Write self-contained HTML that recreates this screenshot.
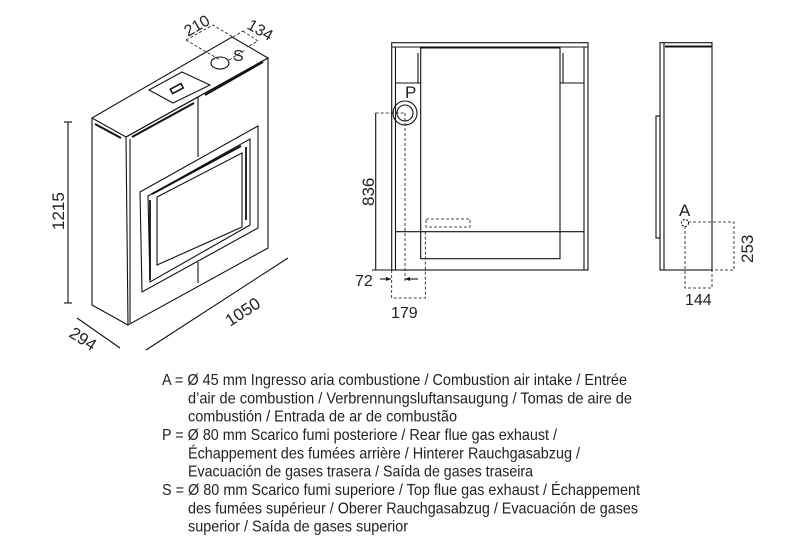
<!DOCTYPE html>
<html><head><meta charset="utf-8"><style>
html,body{margin:0;padding:0;background:#fff;}
svg{display:block;}
text{font-family:"Liberation Sans",sans-serif;fill:#222;}
</style></head><body>
<svg width="790" height="550" viewBox="0 0 790 550" xmlns="http://www.w3.org/2000/svg">
<g fill="none" stroke="#111" stroke-width="1.1">
<polygon points="92,118 232,37 268,58 126,137"/>
<polyline points="92,118 92,305 128,325"/>
<polygon points="126,137 268,58 268,248 128,325"/>
<line x1="130" y1="139" x2="130" y2="323"/>
<line x1="95" y1="124" x2="121" y2="138" stroke-width="2"/>
<line x1="132" y1="137" x2="194" y2="103" stroke-width="2"/>
<line x1="205" y1="95" x2="263" y2="62" stroke-width="2"/>
<line x1="198" y1="97" x2="198" y2="157"/>
<line x1="198" y1="262" x2="198" y2="283"/>
<polygon points="140,192 258,126 258,228 142,292"/>
<polygon points="148,196 250,139 250,225 150,282"/>
<polygon points="157,197 242,153 242,227 157,265"/>
<line x1="152" y1="194" x2="241" y2="146" stroke-width="2"/>
<line x1="150" y1="200" x2="150" y2="280" stroke-width="1.8"/>
<line x1="246" y1="147" x2="246" y2="220" stroke-width="1.8"/>
<polygon points="149,90 182,72 210,85 173,103"/>
<rect x="171" y="86" width="12" height="5" transform="rotate(-28 177 89)" stroke-width="1.6"/>
<ellipse cx="220" cy="63" rx="9" ry="6"/>
<g stroke-dasharray="3,2" stroke-width="0.8">
<polyline points="186,40 213,25 233,37"/>
<line x1="186" y1="40" x2="220" y2="60"/>
<line x1="233" y1="37" x2="243" y2="31"/>
<polyline points="243,31 258,41 247,47"/>
<line x1="229" y1="60" x2="245" y2="50"/>
</g>
<line x1="64" y1="122" x2="72" y2="122"/><line x1="68" y1="122" x2="68" y2="303"/><line x1="64" y1="303" x2="72" y2="303"/>
<line x1="77" y1="318" x2="120" y2="348"/>
<line x1="146" y1="350" x2="288" y2="258"/>
</g>
<text x="0" y="0" font-size="17" transform="translate(64,230) rotate(-90)">1215</text>
<text x="0" y="0" font-size="17" transform="translate(68,336) rotate(33)">294</text>
<text x="0" y="0" font-size="17" transform="translate(230,327) rotate(-33)">1050</text>
<text x="0" y="0" font-size="16" transform="translate(188,37) rotate(-30)">210</text>
<text x="0" y="0" font-size="16" transform="translate(246,28) rotate(30)">134</text>
<text x="233" y="61" font-size="16">S</text>

<g fill="none" stroke="#111" stroke-width="1.1">
<rect x="391.7" y="42.7" width="196.3" height="227.3"/>
<line x1="391.7" y1="47" x2="588" y2="47"/>
<line x1="395.5" y1="47" x2="395.5" y2="270"/>
<line x1="584" y1="47" x2="584" y2="270"/>
<rect x="420.7" y="47" width="139.3" height="211.7"/>
<line x1="420" y1="47.5" x2="560" y2="47.5" stroke-width="2"/>
<line x1="395.5" y1="83" x2="420.7" y2="83"/>
<line x1="560" y1="83" x2="584" y2="83"/>
<line x1="418" y1="53" x2="418" y2="83"/>
<line x1="563" y1="53" x2="563" y2="83"/>
<line x1="395.5" y1="231.7" x2="584" y2="231.7"/>
<circle cx="405" cy="113" r="12"/>
<circle cx="405" cy="113" r="8"/>
<line x1="375.7" y1="113" x2="375.7" y2="270"/>
<line x1="372" y1="270" x2="391.7" y2="270"/>
<g stroke-dasharray="3,2" stroke-width="0.8">
<line x1="375.7" y1="113" x2="405" y2="113"/>
<line x1="405" y1="113" x2="405" y2="282"/>
<polyline points="391.7,270 391.7,298 425.3,298 425.3,231"/>
<rect x="426" y="219" width="44" height="8"/>
</g>
<line x1="380" y1="279" x2="391" y2="279"/>
<line x1="405" y1="279" x2="418" y2="279"/>
</g>
<path d="M391,279 l-5,-2 v4z M405,279 l5,-2 v4z" fill="#111"/>
<text x="405" y="98" font-size="17">P</text>
<text x="0" y="0" font-size="17" transform="translate(374,206) rotate(-90)">836</text>
<text x="355" y="286" font-size="16">72</text>
<text x="391" y="318" font-size="16">179</text>

<g fill="none" stroke="#111" stroke-width="1.1">
<rect x="660" y="42.7" width="52" height="227.3"/>
<line x1="664" y1="42.7" x2="664" y2="270"/>
<line x1="665" y1="46.5" x2="712" y2="46.5" stroke-width="2"/>
<rect x="656" y="116" width="4" height="122"/>
<circle cx="685" cy="223" r="3.5" stroke-dasharray="2,1.5"/>
<g stroke-dasharray="3,2" stroke-width="0.8">
<polyline points="688,222 734,222 734,270 712,270"/>
<polyline points="685,226 685,288 712,288 712,270"/>
</g>
</g>
<text x="679" y="216" font-size="17">A</text>
<text x="0" y="0" font-size="17" transform="translate(753,263) rotate(-90)">253</text>
<text x="685" y="305" font-size="16">144</text>

<g font-size="16">
<text x="162" y="385" textLength="465" lengthAdjust="spacingAndGlyphs">A = Ø 45 mm Ingresso aria combustione / Combustion air intake / Entrée</text>
<text x="188" y="403.3" textLength="444" lengthAdjust="spacingAndGlyphs">d’air de combustion / Verbrennungsluftansaugung / Tomas de aire de</text>
<text x="188" y="421.6" textLength="269" lengthAdjust="spacingAndGlyphs">combustión / Entrada de ar de combustão</text>
<text x="162" y="440" textLength="395" lengthAdjust="spacingAndGlyphs">P = Ø 80 mm Scarico fumi posteriore / Rear flue gas exhaust /</text>
<text x="188" y="458.3" textLength="392" lengthAdjust="spacingAndGlyphs">Échappement des fumées arrière / Hinterer Rauchgasabzug /</text>
<text x="188" y="476.6" textLength="345" lengthAdjust="spacingAndGlyphs">Evacuación de gases trasera / Saída de gases traseira</text>
<text x="162" y="495" textLength="478" lengthAdjust="spacingAndGlyphs">S = Ø 80 mm  Scarico fumi superiore / Top flue gas exhaust / Échappement</text>
<text x="188" y="513.3" textLength="450" lengthAdjust="spacingAndGlyphs">des fumées supérieur / Oberer Rauchgasabzug / Evacuación de gases</text>
<text x="188" y="531.6" textLength="220" lengthAdjust="spacingAndGlyphs">superior / Saída de gases superior</text>
</g>
</svg>
</body></html>
